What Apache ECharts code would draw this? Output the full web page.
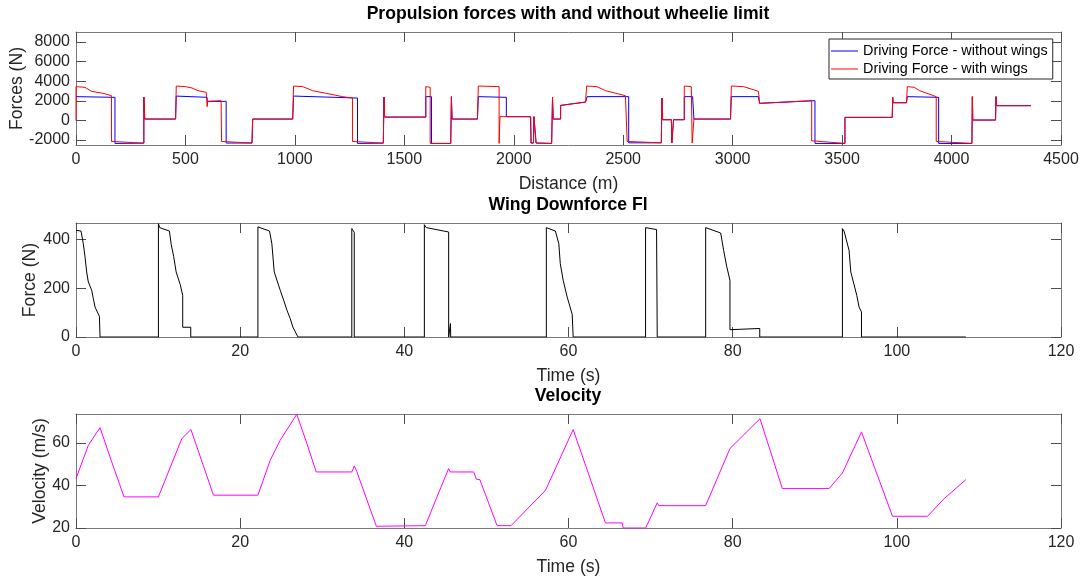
<!DOCTYPE html>
<html>
<head>
<meta charset="utf-8">
<title>Propulsion forces with and without wheelie limit</title>
<script src="https://cdn.jsdelivr.net/npm/echarts@6/dist/echarts.min.js"></script>
<style>
  html, body { margin: 0; padding: 0; background: #fff; }
  #chart { width: 1086px; height: 581px; }
</style>
</head>
<body>
<div id="chart"></div>
<script>
// tick labels
const distTicks = [0, 500, 1000, 1500, 2000, 2500, 3000, 3500, 4000, 4500];
const forceTicks = [-2000, 0, 2000, 4000, 6000, 8000];
const timeTicks = [0, 20, 40, 60, 80, 100, 120];
const downforceTicks = [0, 200, 400];
const velocityTicks = [20, 40, 60];

// Driving force - without wings (distance m / force N)
const distNoWings = [0, 178, 178, 310, 310, 314, 455, 458, 599, 599, 686, 686, 804, 807, 990, 994, 1286, 1286,
  1404, 1407, 1410, 1598, 1598, 1624, 1624, 1712, 1715, 1718, 1834, 1838, 1966, 1966, 2077, 2079, 2090, 2092,
  2100, 2102, 2173, 2177, 2180, 2214, 2214, 2328, 2335, 2525, 2525, 2674, 2677, 2680, 2720, 2722, 2728, 2730,
  2779, 2779, 2817, 2823, 2990, 2994, 3118, 3123, 3376, 3376, 3513, 3513, 3729, 3731, 3733, 3794, 3798, 3941,
  3941, 4093, 4095, 4097, 4201, 4203, 4205, 4363];
const forceNoWings = [2420, 2350, -2340, -2310, 2380, 140, 140, 2480, 2350, 1940, 1940, -2300, -2300, 140, 140, 2480, 2280, -2340,
  -2310, 2380, 340, 340, 2420, 2420, -2340, -2340, 2420, 140, 140, 2420, 2350, 380, 380, -2300, -2300, 380,
  380, -2300, -2340, 2350, 140, 140, 1530, 1870, 2420, 2420, -2280, -2280, 2280, 70, 70, -2300, -2300, 70,
  70, 2420, 2420, 140, 140, 2420, 2420, 1740, 2010, -2340, -2340, 310, 310, 2350, 1800, 1800, 2420, 2350,
  -2340, -2340, 2420, 40, 40, 2420, 1500, 1500];

// Driving force - with wings (distance m / force N)
const distWings = [0, 0, 41, 71, 124, 162, 162, 310, 310, 314, 455, 458, 500, 530, 557, 595, 599, 602, 663, 665,
  804, 807, 990, 994, 1036, 1081, 1143, 1218, 1263, 1263, 1404, 1407, 1410, 1598, 1598, 1618, 1618, 1712, 1715,
  1718, 1834, 1838, 1933, 1933, 1937, 1937, 2077, 2079, 2090, 2092, 2100, 2102, 2173, 2177, 2180, 2214, 2214,
  2328, 2333, 2380, 2419, 2510, 2518, 2674, 2677, 2680, 2720, 2722, 2728, 2730, 2779, 2779, 2811, 2815, 2820,
  2823, 2990, 2994, 3050, 3118, 3123, 3361, 3361, 3513, 3513, 3729, 3731, 3733, 3794, 3798, 3830, 3854, 3930,
  3930, 4093, 4095, 4097, 4201, 4203, 4205, 4363];
const forceWings = [0, 3440, 3370, 2960, 2760, 2520, -2140, -2310, 2380, 140, 140, 3500, 3440, 3300, 3030, 2860, 1400, 1940, 2010, -2140,
  -2300, 140, 140, 3500, 3440, 3030, 2760, 2420, 2280, -2140, -2310, 2380, 340, 340, 3440, 3370, -2340, -2340, 2420,
  140, 140, 3500, 3440, -2340, -2340, 380, 380, -2300, -2300, 380, 380, -2300, -2340, 2350, 140, 140, 1530,
  1870, 3500, 3440, 3030, 2520, -2140, -2280, 2280, 70, 70, -2300, -2300, 70, 70, 3500, 3440, -2300, -2300,
  140, 140, 3500, 3440, 2960, 1740, 2010, -2070, -2340, 310, 310, 2350, 1800, 1800, 3440, 3370, 3030, 2420,
  -2140, -2340, 2420, 40, 40, 2420, 1500, 1500];

// Wing downforce Fl (time s / force N)
const timeFl = [0, 0.61, 0.89, 1.1, 1.3, 1.5, 1.91, 2.11, 2.32, 2.85, 2.93, 10.04, 10.04, 10.2, 11.38, 11.6, 11.9,
  12.2, 12.7, 13.0, 13.0, 13.98, 13.98, 22.16, 22.16, 23.58, 23.86, 24.15, 24.88, 25.3, 25.7, 26.1, 26.42, 27.04,
  33.6, 33.6, 33.9, 33.9, 42.44, 42.44, 42.68, 45.4, 45.4, 45.6, 45.62, 45.65, 57.3, 57.3, 58.4, 58.82, 59.0,
  59.35, 59.84, 60.45, 60.57, 69.39, 69.39, 70.73, 70.81, 76.71, 76.71, 78.54, 78.9, 79.27, 79.67, 79.67, 83.3,
  83.3, 93.37, 93.37, 93.57, 94.18, 94.39, 95.12, 95.4, 95.69, 95.69, 108.41];
const downforceFl = [438, 435, 383, 329, 267, 226, 192, 158, 123, 85, 0, 0, 465, 449, 435, 380, 330,
  267, 215, 171, 40, 40, 0, 0, 452, 435, 383, 267, 192, 151, 110, 75, 41, 0,
  0, 445, 430, 0, 0, 461, 449, 431, 0, 0, 55, 0, 0, 449, 435, 383, 301,
  233, 164, 93, 0, 0, 449, 441, 0, 0, 449, 427, 356, 290, 233, 30, 35,
  0, 0, 445, 435, 356, 267, 171, 123, 103, 0, 0];

// Velocity (time s / m/s)
const timeV = [0, 1.5, 2.93, 4.35, 5.85, 10.04, 12.9, 14.0, 15.5, 16.75, 22.16, 23.66, 24.88, 26.9, 28.13, 29.27,
  33.6, 33.9, 34.15, 36.59, 42.56, 43.98, 45.4, 45.6, 48.45, 48.78, 49.2, 51.3, 53.0, 57.2, 60.57, 64.5, 66.54,
  66.67, 69.4, 70.81, 71.0, 76.71, 79.67, 83.33, 86.05, 91.74, 93.37, 95.69, 99.47, 103.74, 105.77, 108.41];
const velocity = [43.2, 58.8, 67.1, 51, 34.6, 34.6, 62, 66.2, 49.4, 35.4, 35.4, 51.8, 61.2, 73.4, 59.6, 46.3,
  46.3, 49.1, 47.1, 20.8, 21.1, 34.6, 47.9, 46.3, 46.3, 42.9, 42.7, 21.1, 21.1, 37.7, 66.2, 22.4, 22.4,
  20, 20, 31.8, 30.5, 30.5, 57.3, 71.3, 38.5, 38.5, 45.8, 65.1, 25.5, 25.5, 33.8, 42.7];

const zip = (xs, ys) => xs.map((x, i) => [x, ys[i]]);

const font = '"Liberation Sans", Arial, Helvetica, sans-serif';
const textColor = '#262626';
const boxColor = '#7a7a7a';
const plain = (v) => String(v); // no thousands separator, like MATLAB

function xAxes (gridIndex, min, max, ticks, name) {
  const base = {
    type: 'value', gridIndex: gridIndex, min: min, max: max,
    axisLine: { show: true, onZero: false, lineStyle: { color: boxColor, width: 1 } },
    axisTick: { show: true, inside: true, length: 10, customValues: ticks, lineStyle: { color: '#4d4d4d' } },
    splitLine: { show: false }
  };
  return [
    Object.assign({}, base, {
      position: 'bottom',
      name: name, nameLocation: 'middle', nameGap: 30,
      nameTextStyle: { fontSize: 17.6, color: textColor, fontFamily: font },
      axisLabel: { customValues: ticks, formatter: plain, margin: 7, fontSize: 16, color: textColor, fontFamily: font }
    }),
    Object.assign({}, base, { position: 'top', axisLabel: { show: false } })
  ];
}

function yAxes (gridIndex, min, max, ticks, name, nameGap) {
  const base = {
    type: 'value', gridIndex: gridIndex, min: min, max: max,
    axisLine: { show: true, onZero: false, lineStyle: { color: boxColor, width: 1 } },
    axisTick: { show: true, inside: true, length: 10, customValues: ticks, lineStyle: { color: '#4d4d4d' } },
    splitLine: { show: false }
  };
  return [
    Object.assign({}, base, {
      position: 'left',
      name: name, nameLocation: 'middle', nameGap: nameGap, nameMoveOverlap: false,
      nameTextStyle: { fontSize: 17.6, color: textColor, fontFamily: font },
      axisLabel: { customValues: ticks, formatter: plain, margin: 6, fontSize: 16, color: textColor, fontFamily: font }
    }),
    Object.assign({}, base, { position: 'right', axisLabel: { show: false } })
  ];
}

const titleStyle = { fontSize: 17.6, fontWeight: 'bold', color: '#000', fontFamily: font, lineHeight: 20 };

var myChart = echarts.init(document.getElementById('chart'));

var option = {
  animation: false,
  backgroundColor: '#fff',
  title: [
    { text: 'Propulsion forces with and without wheelie limit', left: 568, top: 4, textAlign: 'center', padding: 0, textStyle: titleStyle },
    { text: 'Wing Downforce Fl', left: 568, top: 195, textAlign: 'center', padding: 0, textStyle: titleStyle },
    { text: 'Velocity', left: 568, top: 386, textAlign: 'center', padding: 0, textStyle: titleStyle }
  ],
  grid: [
    { left: 76, right: 25, top: 32, height: 113, outerBoundsMode: 'none' },
    { left: 76, right: 25, top: 223, height: 114, outerBoundsMode: 'none' },
    { left: 76, right: 25, top: 414, height: 114, outerBoundsMode: 'none' }
  ],
  xAxis: [].concat(
    xAxes(0, 0, 4500, distTicks, 'Distance (m)'),
    xAxes(1, 0, 120, timeTicks, 'Time (s)'),
    xAxes(2, 0, 120, timeTicks, 'Time (s)')
  ),
  yAxis: [].concat(
    yAxes(0, -2500, 9000, forceTicks, 'Forces (N)', 50),
    yAxes(1, 0, 468, downforceTicks, 'Force (N)', 37),
    yAxes(2, 20, 73.5, velocityTicks, 'Velocity (m/s)', 27)
  ),
  legend: {
    orient: 'vertical',
    left: 829, top: 39,
    padding: [4, 5, 2, 2],
    itemGap: 2,
    itemWidth: 27,
    itemHeight: 1,
    icon: 'rect',
    backgroundColor: '#fff',
    borderColor: '#262626',
    borderWidth: 1,
    borderRadius: 0,
    textStyle: { fontSize: 14.4, color: '#000', fontFamily: font, lineHeight: 16 },
    data: ['Driving Force - without wings', 'Driving Force - with wings']
  },
  series: [
    {
      name: 'Driving Force - without wings', type: 'line', xAxisIndex: 0, yAxisIndex: 0,
      symbol: 'none', lineStyle: { color: '#0000ff', width: 1 }, itemStyle: { color: '#0000ff' },
      data: zip(distNoWings, forceNoWings)
    },
    {
      name: 'Driving Force - with wings', type: 'line', xAxisIndex: 0, yAxisIndex: 0,
      symbol: 'none', lineStyle: { color: '#ff0000', width: 1 }, itemStyle: { color: '#ff0000' },
      data: zip(distWings, forceWings)
    },
    {
      name: 'Wing downforce', type: 'line', xAxisIndex: 2, yAxisIndex: 2,
      symbol: 'none', lineStyle: { color: '#000', width: 1 },
      data: zip(timeFl, downforceFl)
    },
    {
      name: 'Velocity', type: 'line', xAxisIndex: 4, yAxisIndex: 4,
      symbol: 'none', lineStyle: { color: '#ff00ff', width: 1 },
      data: zip(timeV, velocity)
    }
  ]
};

myChart.setOption(option);
</script>
</body>
</html>
